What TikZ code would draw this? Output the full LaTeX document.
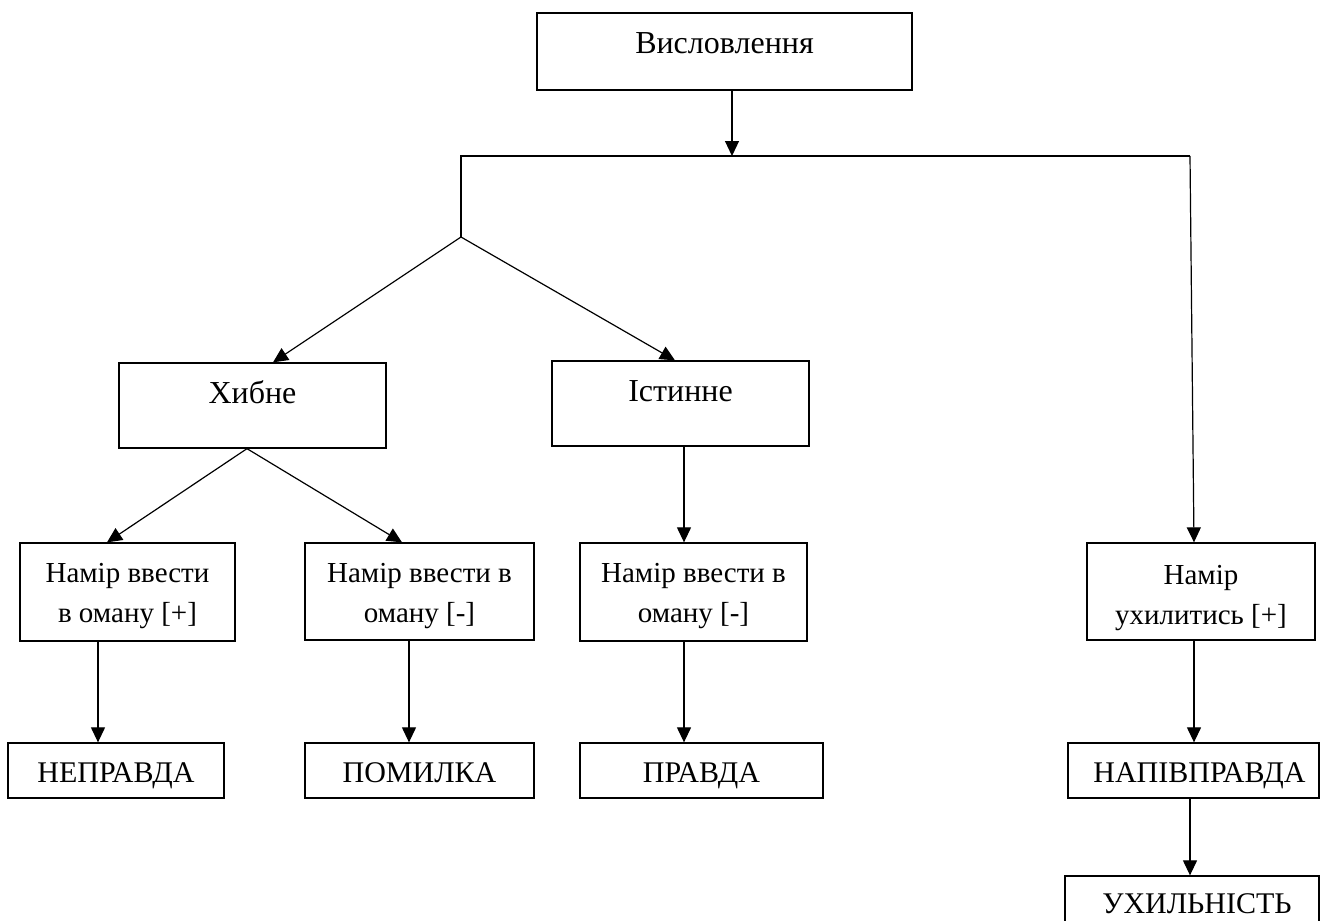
\documentclass[tikz,border=0pt]{standalone}
\usepackage{fontspec}
\setmainfont{Liberation Serif}
\usetikzlibrary{arrows.meta}
\begin{document}
\begin{tikzpicture}[x=1pt,y=-1pt,
  box/.style={draw, line width=1.3pt, inner xsep=0pt, inner ysep=0pt,
    font=\fontsize{29}{40}\selectfont},
  bigbox/.style={box, font=\fontsize{32}{40}\selectfont},
  endbox/.style={box, font=\fontsize{30}{40}\selectfont},
  conn/.style={line width=1.2pt},
  arr/.style={conn, -{Triangle[length=15pt,width=14pt]}}]
\clip (0,0) rectangle (1320,921);
% boxes
\node[bigbox, minimum width=375pt, text height=40pt, text depth=37pt] (top) at (724.5,51.5) {Висловлення};
\node[bigbox, minimum width=267pt, text height=40pt, text depth=45pt] (hib) at (252.5,405.5) {Хибне};
\node[bigbox, minimum width=257pt, text height=40pt, text depth=45pt] (ist) at (680.5,403.5) {Істинне};
\node[box, minimum width=215pt, text height=39pt, text depth=59pt] (n1) at (127.5,592) {\begin{tabular}[t]{@{}c@{}}Намір ввести\\в оману [+]\end{tabular}};
\node[box, minimum width=229pt, text height=39pt, text depth=58pt] (n2) at (419.5,591.5) {\begin{tabular}[t]{@{}c@{}}Намір ввести в\\оману [-]\end{tabular}};
\node[box, minimum width=227pt, text height=39pt, text depth=59pt] (n3) at (693.5,592) {\begin{tabular}[t]{@{}c@{}}Намір ввести в\\оману [-]\end{tabular}};
\node[box, minimum width=228pt, text height=41pt, text depth=56pt] (n4) at (1201,591.5) {\begin{tabular}[t]{@{}c@{}}Намір\\ухилитись [+]\end{tabular}};
\node[endbox, minimum width=216pt, text height=39pt, text depth=16pt] (b1) at (116,770.5) {НЕПРАВДА};
\node[endbox, minimum width=229pt, text height=39pt, text depth=16pt] (b2) at (419.5,770.5) {ПОМИЛКА};
\node[endbox, minimum width=243pt, text height=39pt, text depth=16pt] (b3) at (701.5,770.5) {ПРАВДА};
\node[endbox, minimum width=251pt, text height=39pt, text depth=16pt] (b4) at (1193.5,770.5) {\hspace*{12pt}НАПІВПРАВДА};
\node[endbox, minimum width=254pt, text height=37pt, text depth=18pt] (b5) at (1192,903.5) {\hspace*{10pt}УХИЛЬНІСТЬ};
% junctions
\coordinate (j0) at (732,156);
\coordinate (jLt) at (461,156);
\coordinate (jR) at (1190,156);
\coordinate (jL) at (461,237);
% connectors
\draw[arr] (top.south -| j0) -- (j0);
\draw[conn] (jL) -- (jLt) -- (jR);
\draw[arr] (jR) -- ([xshift=-7pt]n4.north);
\draw[arr] (jL) -- ([xshift=20.5pt]hib.north);
\draw[arr] (jL) -- ([xshift=-5.5pt]ist.north);
\draw[arr] ([xshift=-5.5pt]hib.south) -- ([xshift=-20.5pt]n1.north);
\draw[arr] ([xshift=-5.5pt]hib.south) -- ([xshift=-17.5pt]n2.north);
\draw[arr] ([xshift=3.5pt]ist.south) -- ([xshift=3.5pt]ist.south |- n3.north);
\draw[arr] ([xshift=-29.5pt]n1.south) -- ([xshift=-29.5pt]n1.south |- b1.north);
\draw[arr] ([xshift=-10.5pt]n2.south) -- ([xshift=-10.5pt]n2.south |- b2.north);
\draw[arr] ([xshift=-9.5pt]n3.south) -- ([xshift=-9.5pt]n3.south |- b3.north);
\draw[arr] ([xshift=-7pt]n4.south) -- ([xshift=-7pt]n4.south |- b4.north);
\draw[arr] ([xshift=-3.5pt]b4.south) -- ([xshift=-3.5pt]b4.south |- b5.north);
\end{tikzpicture}
\end{document}
